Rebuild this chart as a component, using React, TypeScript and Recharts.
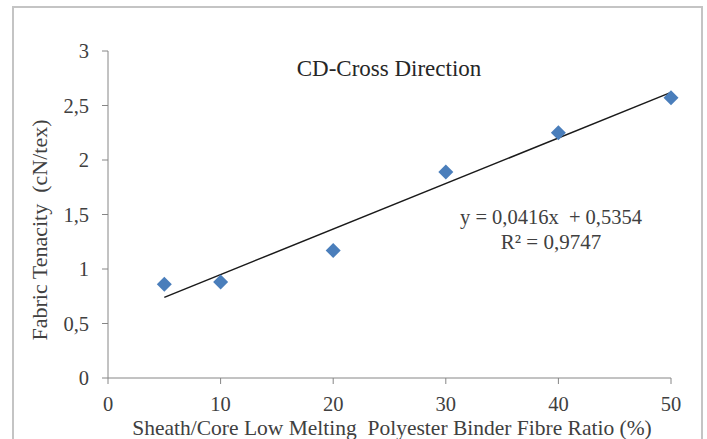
import { ComposedChart, Scatter, Line, XAxis, YAxis } from "recharts";

// fibre ratio (%) vs fabric tenacity, CD direction
const ratios = [5, 10, 20, 30, 40, 50];
const tenacity = [0.86, 0.88, 1.17, 1.89, 2.25, 2.57];
const trendX = [5, 50];
const trendY = [0.74, 2.62];
const xTicks = [0, 10, 20, 30, 40, 50];
const yTicks = [0, 0.5, 1, 1.5, 2, 2.5, 3];

const points = ratios.map((x, i) => ({ x, y: tenacity[i] }));
const trend = trendX.map((x, i) => ({ x, t: trendY[i] }));

const font = `"Liberation Serif", "Tinos", serif`;
const textColor = "#404040";
const axisColor = "#868686";

const fmt = (v: number) => String(v).replace(".", ",");

function Diamond(props: any) {
    const { cx, cy } = props;
    const r = 7.5;
    return (
        <polygon
            points={`${cx},${cy - r} ${cx + r},${cy} ${cx},${cy + r} ${cx - r},${cy}`}
            fill="#4a7ebb"
        />
    );
}

function XTick(props: any) {
    const { x, y, payload } = props;
    return (
        <text x={x} y={y} dy={15} textAnchor="middle" fill={textColor} style={{ fontFamily: font, fontSize: 20.5 }}>
            {fmt(payload.value)}
        </text>
    );
}

function YTick(props: any) {
    const { x, y, payload } = props;
    return (
        <text x={x} y={y} dy={7} textAnchor="end" fill={textColor} style={{ fontFamily: font, fontSize: 20.5 }}>
            {fmt(payload.value)}
        </text>
    );
}

const txt = (size: number) => ({ fontFamily: font, fontSize: size, whiteSpace: "pre" as const });

export default function App() {
    return (
        <div style={{ position: "absolute", left: 0, top: 0, width: 707, height: 439, background: "#fff", overflow: "hidden", fontFamily: font }}>
            <div style={{
                position: "absolute", left: 12, top: 6, width: 691, height: 460,
                border: "2px solid #c4c4c4", boxSizing: "border-box"
            }} />
            <ComposedChart width={707} height={439} margin={{ top: 51, right: 36, left: 0, bottom: 0 }}>
                <XAxis
                    type="number"
                    dataKey="x"
                    domain={[0, 50]}
                    ticks={xTicks}
                    height={61}
                    tickSize={6}
                    tickMargin={12}
                    stroke={axisColor}
                    tick={<XTick />}
                />
                <YAxis
                    type="number"
                    domain={[0, 3]}
                    ticks={yTicks}
                    width={108}
                    tickSize={6}
                    tickMargin={13}
                    stroke={axisColor}
                    tick={<YTick />}
                />
                <Scatter data={points} dataKey="y" shape={<Diamond />} isAnimationActive={false} />
                <Line data={trend} dataKey="t" type="linear" stroke="#1a1a1a" strokeWidth={1.5} dot={false} isAnimationActive={false} />
            </ComposedChart>
            <svg width={707} height={439} style={{ position: "absolute", left: 0, top: 0, pointerEvents: "none" }}>
                <text x={389} y={76} textAnchor="middle" fill="#262626" style={txt(23)}>CD-Cross Direction</text>
                <text x={551} y={224} textAnchor="middle" fill={textColor} style={txt(20.5)}>y = 0,0416x  + 0,5354</text>
                <text x={551} y={249} textAnchor="middle" fill={textColor} style={txt(21)}>R² = 0,9747</text>
                <text x={392} y={435} textAnchor="middle" fill={textColor} style={txt(21.5)}>Sheath/Core Low Melting  Polyester Binder Fibre Ratio (%)</text>
                <text x={47} y={230} textAnchor="middle" fill={textColor} transform="rotate(-90 47 230)" style={txt(22)}>Fabric Tenacity  (cN/tex)</text>
            </svg>
        </div>
    );
}
